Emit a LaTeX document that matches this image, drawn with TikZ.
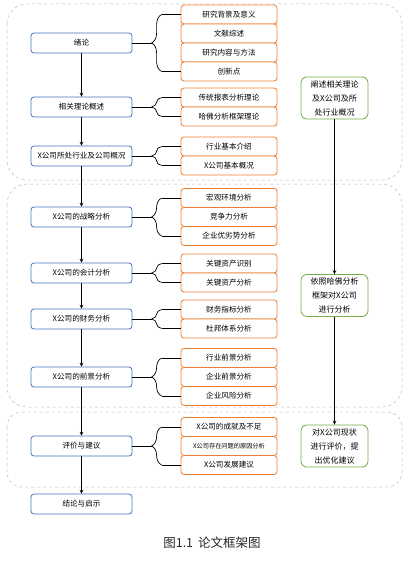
\documentclass[tikz,border=0pt]{standalone}
\usepackage{fontspec}
\newfontfamily\cjk{Noto Sans CJK SC}
\usepackage{tikz}
\usetikzlibrary{calc,decorations.pathreplacing}

\definecolor{mainblue}{HTML}{4472C4}
\definecolor{suborange}{HTML}{ED7D31}
\definecolor{sidegreen}{HTML}{70AD47}

\begin{document}
\begin{tikzpicture}[x=1pt,y=-1pt,
    main/.style={draw=mainblue,line width=0.8pt,rounded corners=3pt,fill=white,
        minimum width=101pt,minimum height=20pt,inner sep=1pt,font=\cjk\fontsize{7.6}{9}\selectfont},
    sub/.style={draw=suborange,line width=0.8pt,rounded corners=3pt,fill=white,
        minimum width=96pt,minimum height=19pt,inner sep=1pt,font=\cjk\fontsize{7.6}{9}\selectfont},
    side/.style={draw=sidegreen,line width=0.8pt,rounded corners=6pt,fill=white,
        minimum width=67pt,align=center,font=\cjk\fontsize{8}{14}\selectfont},
    grp/.style={draw=gray!55,dashed,line width=0.5pt},
    br/.style={decorate,decoration={brace,amplitude=10pt},line width=0.7pt}]
    \useasboundingbox (0,0) rectangle (410,564);

    % dashed groups
    \draw[grp,rounded corners=20pt] (7,4) rectangle (402,180);
    \draw[grp,rounded corners=20pt] (7,184) rectangle (402,407);
    \draw[grp,rounded corners=15pt] (7,412) rectangle (402,487);

    % left column
    \node[main] (m1) at (81.5,43) {绪论};
    \node[main] (m2) at (81.5,107) {相关理论概述};
    \node[main] (m3) at (81.5,156) {X公司所处行业及公司概况};
    \node[main] (m4) at (81.5,217) {X公司的战略分析};
    \node[main] (m5) at (81.5,273) {X公司的会计分析};
    \node[main] (m6) at (81.5,319) {X公司的财务分析};
    \node[main] (m7) at (81.5,377) {X公司的前景分析};
    \node[main] (m8) at (81.5,446) {评价与建议};
    \node[main] (m9) at (81.5,504) {结论与启示};

    % middle column
    \foreach \n/\y/\t in {a1/14.5/研究背景及意义, a2/33.5/文献综述, a3/52.5/研究内容与方法, a4/71.5/创新点,
        b1/97.5/传统报表分析理论, b2/116.5/哈佛分析框架理论,
        c1/146.5/行业基本介绍, c2/165.5/X公司基本概况,
        d1/198/宏观环境分析, d2/217/竞争力分析, d3/236/企业优劣势分析,
        e1/263.5/关键资产识别, e2/282.5/关键资产分析,
        f1/309.5/财务指标分析, f2/328.5/杜邦体系分析,
        g1/358/行业前景分析, g2/377/企业前景分析, g3/396/企业风险分析,
        h1/427/X公司的成就及不足, h3/465/X公司发展建议}
        \node[sub] (\n) at (229,\y) {\t};
    \node[sub,font=\cjk\fontsize{6.2}{8}\selectfont] (h2) at (229,446) {X公司存在问题的原因分析};

    % braces
    \foreach \p/\f/\l in {m1/a1/a4, m2/b1/b2, m3/c1/c2, m4/d1/d3, m5/e1/e2, m6/f1/f2, m7/g1/g3, m8/h1/h3}{
        \draw[line width=0.7pt] (\p.east) -- ++(20,0);
        \draw[br] ($(\l.west)+(-19,0)$) -- ($(\f.west)+(-19,0)$);
        \draw[line width=0.7pt] (\f.west) -- ++(-19,0);
        \draw[line width=0.7pt] (\l.west) -- ++(-19,0);
    }

    % right column
    \node[side] (s1) at (334.5,98) {阐述相关理论\\及X公司及所\\处行业概况};
    \node[side] (s2) at (334.5,295.5) {依照哈佛分析\\框架对X公司\\进行分析};
    \node[side] (s3) at (334.5,446) {对X公司现状\\进行评价，提\\出优化建议};

    % arrows
    \foreach \a/\b in {m1/m2, m2/m3, m3/m4, m4/m5, m5/m6, m6/m7, m7/m8, m8/m9}
        \draw[->,>=stealth,line width=0.7pt] (\a.south) -- (\b.north);
    \draw[->,>=stealth,line width=0.7pt] (s1.south) -- (s2.north);
    \draw[->,>=stealth,line width=0.7pt] (s2.south) -- (s3.north);

    \node[font=\cjk\fontsize{12.5}{14}\selectfont,text=black!85] (cap) at (212,543) {图1.1\hspace{5pt}论文框架图};
\end{tikzpicture}
\end{document}
